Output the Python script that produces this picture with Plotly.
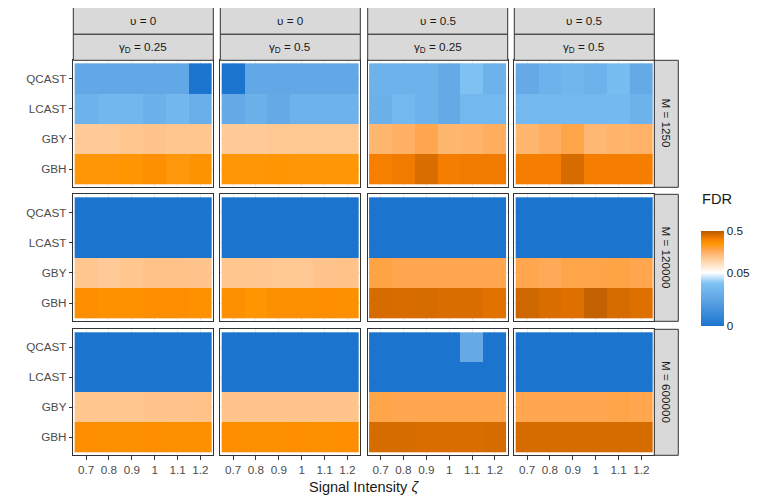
import plotly.graph_objects as go

# ---------------- data ----------------
methods = ["QCAST", "LCAST", "GBY", "GBH"]
signal = [0.7, 0.8, 0.9, 1.0, 1.1, 1.2]
signal_labels = ["0.7", "0.8", "0.9", "1", "1.1", "1.2"]
upsilon_labels = ["υ = 0", "υ = 0", "υ = 0.5", "υ = 0.5"]
gamma_labels = ["γ<sub>D</sub> = 0.25", "γ<sub>D</sub> = 0.5",
                "γ<sub>D</sub> = 0.25", "γ<sub>D</sub> = 0.5"]
m_labels = ["M = 1250", "M = 120000", "M = 600000"]
fdr_ticks = [0, 0.05, 0.5]
fdr_tick_labels = ["0", "0.05", "0.5"]

# rows: QCAST, LCAST, GBY, GBH ; columns: signal intensity 0.7 .. 1.2
fdr_m1250_u0_g025 = [
    [0.004, 0.004, 0.004, 0.004, 0.004, 0.0],
    [0.008, 0.011, 0.011, 0.0075, 0.011, 0.0067],
    [0.127, 0.127, 0.134, 0.138, 0.134, 0.134],
    [0.280, 0.280, 0.286, 0.300, 0.274, 0.293],
]
fdr_m1250_u0_g05 = [
    [0.0, 0.004, 0.004, 0.004, 0.004, 0.004],
    [0.0046, 0.0075, 0.0046, 0.0084, 0.0084, 0.0084],
    [0.127, 0.127, 0.131, 0.131, 0.131, 0.131],
    [0.280, 0.280, 0.286, 0.280, 0.280, 0.280],
]
fdr_m1250_u05_g025 = [
    [0.0084, 0.0084, 0.0084, 0.0046, 0.0205, 0.0084],
    [0.0075, 0.0116, 0.0084, 0.0046, 0.0116, 0.0116],
    [0.167, 0.180, 0.205, 0.167, 0.171, 0.185],
    [0.351, 0.366, 0.416, 0.358, 0.366, 0.366],
]
fdr_m1250_u05_g05 = [
    [0.0046, 0.0084, 0.0104, 0.0084, 0.0156, 0.0046],
    [0.0116, 0.0116, 0.0116, 0.0116, 0.0128, 0.0084],
    [0.167, 0.185, 0.210, 0.163, 0.171, 0.176],
    [0.358, 0.358, 0.425, 0.358, 0.358, 0.358],
]
fdr_m120000_u0_g025 = [
    [0.0, 0.0, 0.0, 0.0, 0.0, 0.0],
    [0.0, 0.0, 0.0, 0.0, 0.0, 0.0],
    [0.134, 0.127, 0.134, 0.142, 0.142, 0.138],
    [0.307, 0.297, 0.297, 0.307, 0.307, 0.297],
]
fdr_m120000_u0_g05 = [
    [0.0, 0.0, 0.0, 0.0, 0.0, 0.0],
    [0.0, 0.0, 0.0, 0.0, 0.0, 0.0],
    [0.134, 0.134, 0.131, 0.131, 0.138, 0.140],
    [0.300, 0.286, 0.300, 0.300, 0.307, 0.300],
]
fdr_m120000_u05_g025 = [
    [0.0, 0.0, 0.0, 0.0, 0.0, 0.0],
    [0.0, 0.0, 0.0, 0.0, 0.0, 0.0],
    [0.215, 0.205, 0.205, 0.205, 0.205, 0.205],
    [0.425, 0.421, 0.425, 0.416, 0.416, 0.399],
]
fdr_m120000_u05_g05 = [
    [0.0, 0.0, 0.0, 0.0, 0.0, 0.0],
    [0.0, 0.0, 0.0, 0.0, 0.0, 0.0],
    [0.205, 0.195, 0.210, 0.210, 0.215, 0.205],
    [0.443, 0.416, 0.407, 0.471, 0.425, 0.407],
]
fdr_m600000_u0_g025 = [
    [0.0, 0.0, 0.0, 0.0, 0.0, 0.0],
    [0.0, 0.0, 0.0, 0.0, 0.0, 0.0],
    [0.134, 0.134, 0.134, 0.138, 0.138, 0.140],
    [0.307, 0.300, 0.300, 0.307, 0.300, 0.300],
]
fdr_m600000_u0_g05 = [
    [0.0, 0.0, 0.0, 0.0, 0.0, 0.0],
    [0.0, 0.0, 0.0, 0.0, 0.0, 0.0],
    [0.138, 0.138, 0.138, 0.138, 0.138, 0.138],
    [0.307, 0.300, 0.300, 0.307, 0.300, 0.307],
]
fdr_m600000_u05_g025 = [
    [0.0, 0.0, 0.0, 0.0, 0.0046, 0.0],
    [0.0, 0.0, 0.0, 0.0, 0.0, 0.0],
    [0.210, 0.205, 0.205, 0.205, 0.205, 0.205],
    [0.425, 0.425, 0.416, 0.416, 0.416, 0.425],
]
fdr_m600000_u05_g05 = [
    [0.0, 0.0, 0.0, 0.0, 0.0, 0.0],
    [0.0, 0.0, 0.0, 0.0, 0.0, 0.0],
    [0.205, 0.205, 0.205, 0.205, 0.210, 0.205],
    [0.425, 0.425, 0.425, 0.425, 0.425, 0.425],
]

panels = [
    [fdr_m1250_u0_g025, fdr_m1250_u0_g05, fdr_m1250_u05_g025, fdr_m1250_u05_g05],
    [fdr_m120000_u0_g025, fdr_m120000_u0_g05, fdr_m120000_u05_g025, fdr_m120000_u05_g05],
    [fdr_m600000_u0_g025, fdr_m600000_u0_g05, fdr_m600000_u05_g025, fdr_m600000_u05_g05],
]

FDR_MAX = 0.5


def fdr_scale(v):
    # fourth-root colour transform of the FDR scale
    return (v / FDR_MAX) ** 0.25


# ---------------- layout helpers ----------------
W, H = 769, 504
OFF = 8  # page offset of the plot div (body margin)
col_px = [(73.3, 213.3), (220.3, 360.3), (367.7, 507.7), (514.3, 654.3)]
row_px = [(60.3, 187.3), (194.3, 321.3), (329.3, 455.3)]
strip1_px = (7.3, 34.3)
strip2_px = (34.3, 60.3)
rstrip_px = (654.3, 678.3)


def fx(p):
    return (p - OFF) / W


def fy(p):
    return 1 - (p - OFF) / H


FONT = "Liberation Sans, Arial, sans-serif"
AX_COL = "#4D4D4D"
TXT = "#1A1A1A"
LINE = "#333333"

colorscale = [
    [0.0, "rgb(27,117,206)"],
    [0.30, "rgb(99,168,230)"],
    [0.45, "rgb(125,194,243)"],
    [0.562, "rgb(255,255,255)"],
    [0.72, "rgb(255,198,144)"],
    [0.80, "rgb(255,166,79)"],
    [0.87, "rgb(255,149,0)"],
    [0.92, "rgb(245,125,0)"],
    [0.96, "rgb(214,107,0)"],
    [1.0, "rgb(184,90,0)"],
]

fig = go.Figure()
layout = dict(
    width=W, height=H, autosize=False,
    margin=dict(l=0, r=0, t=0, b=0),
    paper_bgcolor="white", plot_bgcolor="white",
    font=dict(family=FONT, color=TXT, size=11.7),
    showlegend=False,
)
shapes = []
annotations = []

for r in range(3):
    for c in range(4):
        k = r * 4 + c + 1
        xid = "x" if k == 1 else f"x{k}"
        yid = "y" if k == 1 else f"y{k}"
        vals = panels[r][c]
        z = [[fdr_scale(v) for v in row] for row in vals]
        fig.add_trace(go.Heatmap(
            x=signal, y=methods, z=z, customdata=vals,
            coloraxis="coloraxis", xaxis=xid, yaxis=yid,
            hovertemplate="%{y}, ζ=%{x}: FDR=%{customdata}<extra></extra>",
        ))
        xkey = "xaxis" if k == 1 else f"xaxis{k}"
        ykey = "yaxis" if k == 1 else f"yaxis{k}"
        layout[xkey] = dict(
            domain=[fx(col_px[c][0]), fx(col_px[c][1])],
            anchor=yid, range=[0.644, 1.256],
            tickvals=signal, ticktext=signal_labels,
            showticklabels=(r == 2), ticks="outside" if r == 2 else "",
            ticklen=3.5, tickcolor=LINE, tickwidth=1,
            tickfont=dict(size=11.7, color=AX_COL, family=FONT),
            showgrid=True, gridcolor="#EBEBEB", gridwidth=1,
            showline=True, mirror=True, linecolor=LINE, linewidth=1,
            zeroline=False, fixedrange=True,
        )
        layout[ykey] = dict(
            domain=[fy(row_px[r][1]), fy(row_px[r][0])],
            anchor=xid, type="category",
            categoryorder="array", categoryarray=methods,
            range=[3.6, -0.6],
            showticklabels=(c == 0), ticks="outside" if c == 0 else "",
            ticklen=3.5, tickcolor=LINE, tickwidth=1,
            tickfont=dict(size=11.7, color=AX_COL, family=FONT),
            showgrid=True, gridcolor="#EBEBEB", gridwidth=1,
            showline=True, mirror=True, linecolor=LINE, linewidth=1,
            zeroline=False, fixedrange=True,
        )

# top strips
for c in range(4):
    x0, x1 = fx(col_px[c][0]), fx(col_px[c][1])
    for (y0p, y1p), lab in ((strip1_px, upsilon_labels[c]), (strip2_px, gamma_labels[c])):
        shapes.append(dict(type="rect", xref="paper", yref="paper",
                           x0=x0, x1=x1, y0=fy(y1p), y1=fy(y0p),
                           fillcolor="#D9D9D9", line=dict(color=LINE, width=1),
                           layer="above"))
        annotations.append(dict(xref="paper", yref="paper",
                                x=(x0 + x1) / 2, y=fy((y0p + y1p) / 2),
                                text=lab, showarrow=False,
                                font=dict(size=11.7, color=TXT, family=FONT),
                                xanchor="center", yanchor="middle"))

# right strips
for r in range(3):
    x0, x1 = fx(rstrip_px[0]), fx(rstrip_px[1])
    y0, y1 = fy(row_px[r][1]), fy(row_px[r][0])
    shapes.append(dict(type="rect", xref="paper", yref="paper",
                       x0=x0, x1=x1, y0=y0, y1=y1,
                       fillcolor="#D9D9D9", line=dict(color=LINE, width=1),
                       layer="above"))
    annotations.append(dict(xref="paper", yref="paper",
                            x=(x0 + x1) / 2, y=(y0 + y1) / 2,
                            text=m_labels[r], showarrow=False, textangle=90,
                            font=dict(size=11.7, color=TXT, family=FONT),
                            xanchor="center", yanchor="middle"))

# axis title
annotations.append(dict(xref="paper", yref="paper",
                        x=fx((col_px[0][0] + col_px[3][1]) / 2), y=fy(487),
                        text="Signal Intensity <i>ζ</i>", showarrow=False,
                        font=dict(size=14.5, color=TXT, family=FONT),
                        xanchor="center", yanchor="middle"))
# legend title
annotations.append(dict(xref="paper", yref="paper",
                        x=fx(700), y=fy(199),
                        text="FDR", showarrow=False,
                        font=dict(size=14.6, color=TXT, family=FONT),
                        xanchor="left", yanchor="middle"))

layout["shapes"] = shapes
layout["annotations"] = annotations
layout["coloraxis"] = dict(
    colorscale=colorscale, cmin=0, cmax=1,
    colorbar=dict(
        x=fx(701), xanchor="left",
        y=fy((230.7 + 326) / 2), yanchor="middle",
        len=(326 - 230.7) / H, lenmode="fraction",
        thickness=23, thicknessmode="pixels",
        outlinewidth=0, xpad=0, ypad=0,
        tickvals=[fdr_scale(v) for v in fdr_ticks], ticktext=fdr_tick_labels,
        ticks="inside", ticklen=5, tickcolor="white", tickwidth=1,
        tickfont=dict(size=11.7, color=TXT, family=FONT),
    ),
)
fig.update_layout(**layout)
fig.write_html("out.html")
